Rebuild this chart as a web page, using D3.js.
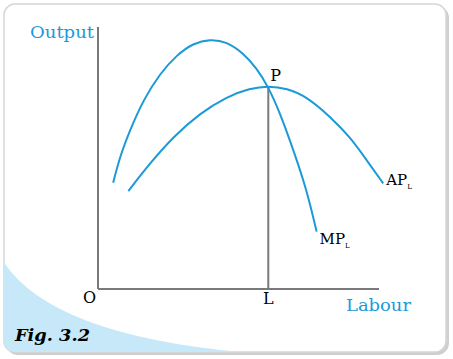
<!DOCTYPE html>
<html lang="en">
<head>
<meta charset="utf-8">
<script src="https://d3js.org/d3.v7.min.js"></script>
<style type="text/css">
body {
	margin: 0;
	background: #fff;
}
text {
	font-family: "DejaVu Serif", serif;
}
</style>
</head>
<body>
<script type="text/javascript">

// labour units vs output
var mpLabour = [0.54, 0.78, 1.14, 1.61, 2.21, 2.80, 3.39, 3.99, 4.58, 5.17, 5.65, 6.06, 6.48, 6.95, 7.43, 7.78];
var mpOutput = [4.06, 5.05, 6.07, 7.21, 8.23, 8.93, 9.38, 9.54, 9.44, 9.00, 8.42, 7.72, 6.71, 5.31, 3.78, 2.19];

var apLabour = [1.08, 1.85, 2.68, 3.63, 4.58, 5.41, 6.06, 6.72, 7.43, 8.26, 8.97, 9.56, 10.15];
var apOutput = [3.74, 4.80, 5.81, 6.71, 7.34, 7.66, 7.75, 7.66, 7.34, 6.58, 5.80, 4.92, 4.03];

var pointP = [6.06, 7.73];
var axisLabels = ["Output", "Labour"];
var tickLabels = ["O", "L"];

var width = 453;
var height = 359;
var blue = "#1b9ad7";

var svg = d3.select("body")
	.append("svg")
	.attr("width", width)
	.attr("height", height);

var x = d3.scaleLinear().domain([0, 10]).range([98, 379]);
var y = d3.scaleLinear().domain([0, 10]).range([289, 27]);

// frame with shadow
var defs = svg.append("defs");
defs.append("clipPath").attr("id", "frameClip")
	.append("rect")
	.attr("x", 4).attr("y", 4)
	.attr("width", 442).attr("height", 348)
	.attr("rx", 11);

svg.append("rect")
	.attr("x", 6).attr("y", 6)
	.attr("width", 443).attr("height", 349)
	.attr("rx", 12)
	.attr("fill", "#cfcfcf");

svg.append("rect")
	.attr("x", 4).attr("y", 4)
	.attr("width", 442).attr("height", 348)
	.attr("rx", 11)
	.attr("fill", "#fff")
	.attr("stroke", "#d6d6d6")
	.attr("stroke-width", 1.5);

// light blue swoosh bottom-left
svg.append("path")
	.attr("clip-path", "url(#frameClip)")
	.attr("d", "M0,256 Q50,345 300,356 L0,360 Z")
	.attr("fill", "#c6e8f8");

// axes
svg.append("line")
	.attr("x1", x(0)).attr("y1", y(0))
	.attr("x2", x(0)).attr("y2", y(10))
	.attr("stroke", "#7a7a7a").attr("stroke-width", 2);

svg.append("line")
	.attr("x1", x(0)).attr("y1", y(0))
	.attr("x2", x(10)).attr("y2", y(0))
	.attr("stroke", "#7a7a7a").attr("stroke-width", 2);

// vertical from P
svg.append("line")
	.attr("x1", x(pointP[0])).attr("y1", y(0))
	.attr("x2", x(pointP[0])).attr("y2", y(pointP[1]))
	.attr("stroke", "#7a7a7a").attr("stroke-width", 2);

var line = d3.line()
	.x(function(d) { return x(d[0]); })
	.y(function(d) { return y(d[1]); })
	.curve(d3.curveBasis);

svg.append("path")
	.attr("d", line(d3.zip(mpLabour, mpOutput)))
	.attr("fill", "none")
	.attr("stroke", blue)
	.attr("stroke-width", 2);

svg.append("path")
	.attr("d", line(d3.zip(apLabour, apOutput)))
	.attr("fill", "none")
	.attr("stroke", blue)
	.attr("stroke-width", 2);

// labels
svg.append("text")
	.attr("x", 30).attr("y", 38)
	.attr("fill", blue)
	.style("font-size", "16px")
	.attr("textLength", 64)
	.attr("lengthAdjust", "spacingAndGlyphs")
	.text(axisLabels[0]);

svg.append("text")
	.attr("x", 346).attr("y", 311)
	.attr("fill", blue)
	.style("font-size", "16px")
	.attr("textLength", 65)
	.attr("lengthAdjust", "spacingAndGlyphs")
	.text(axisLabels[1]);

svg.append("text")
	.attr("x", x(0) - 15).attr("y", 303)
	.style("font-size", "16px")
	.text(tickLabels[0]);

svg.append("text")
	.attr("x", x(pointP[0])).attr("y", 304)
	.attr("text-anchor", "middle")
	.style("font-size", "16px")
	.text(tickLabels[1]);

svg.append("text")
	.attr("x", x(pointP[0]) + 2).attr("y", y(pointP[1]) - 5)
	.style("font-size", "16px")
	.text("P");

var mpEnd = [mpLabour[mpLabour.length - 1], mpOutput[mpOutput.length - 1]];
var apEnd = [apLabour[apLabour.length - 1], apOutput[apOutput.length - 1]];

var mpText = svg.append("text")
	.attr("x", x(mpEnd[0]) + 3).attr("y", y(mpEnd[1]) + 12)
	.style("font-size", "15px");
mpText.append("tspan").text("MP");
mpText.append("tspan").attr("dy", 4).style("font-size", "7px").text("L");

var apText = svg.append("text")
	.attr("x", x(apEnd[0]) + 3).attr("y", y(apEnd[1]) + 2)
	.style("font-size", "15px");
apText.append("tspan").text("AP");
apText.append("tspan").attr("dy", 4).style("font-size", "7px").text("L");

svg.append("text")
	.attr("x", 15).attr("y", 341)
	.style("font-size", "17px")
	.style("font-weight", "bold")
	.style("font-style", "italic")
	.attr("textLength", 75)
	.attr("lengthAdjust", "spacingAndGlyphs")
	.text("Fig. 3.2");

</script>
</body>
</html>
